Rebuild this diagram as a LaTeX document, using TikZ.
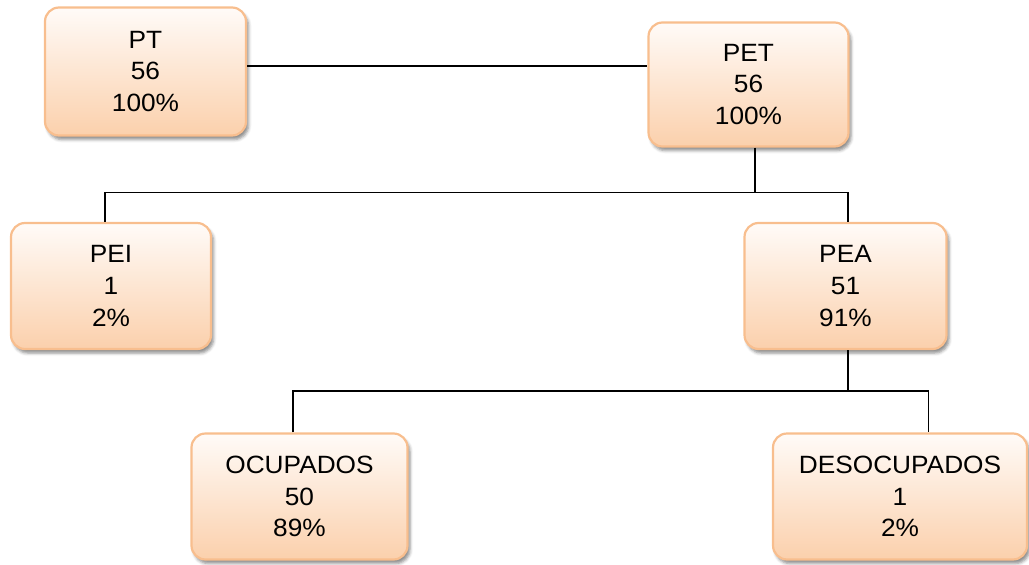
\documentclass[tikz,border=0pt]{standalone}
\usepackage{fontspec}
\setmainfont{Liberation Sans}[FakeStretch=1.05]
\usetikzlibrary{shadows.blur}
\definecolor{boxborder}{HTML}{F8BE8E}
\definecolor{boxtop}{HTML}{FFFBF8}
\definecolor{boxbottom}{HTML}{FBD0AC}
\tikzset{
  databox/.style={rectangle, rounded corners=14pt, draw=boxborder, line width=2.2pt,
    top color=boxtop, bottom color=boxbottom, align=center, inner sep=0pt,
    font=\fontsize{25}{31.7}\selectfont,
    blur shadow={shadow xshift=2.5pt, shadow yshift=-4pt, shadow blur radius=3pt, shadow opacity=45}},
  link/.style={line width=1.7pt, black}
}
\begin{document}
\begin{tikzpicture}[x=1pt,y=-1pt]
\useasboundingbox (0,0) rectangle (1029,565);
\node[databox, minimum width=201pt, minimum height=128pt] (PT) at (145.5,71.5) {PT\\56\\100\%};
\node[databox, minimum width=200pt, minimum height=124pt] (PET) at (748.5,84.5) {PET\\56\\100\%};
\node[databox, minimum width=200pt, minimum height=126pt] (PEI) at (111,286) {PEI\\1\\2\%};
\node[databox, minimum width=202pt, minimum height=126pt] (PEA) at (845.5,286) {PEA\\51\\91\%};
\node[databox, minimum width=216pt, minimum height=126pt] (OCU) at (299.5,496.5) {OCUPADOS\\50\\89\%};
\node[databox, minimum width=254pt, minimum height=126pt] (DES) at (900,496.5) {DESOCUPADOS\\1\\2\%};
% connectors
\draw[link] (PT.east |- 0,66) -- (PET.west |- 0,66);
\draw[link] ([xshift=6.5pt]PET.south) -- ++(0,45) coordinate (j1);
\draw[link] ([xshift=-6pt]PEI.north) |- (j1) -| ([xshift=2.5pt]PEA.north);
\draw[link] ([xshift=2.5pt]PEA.south) -- ++(0,41) coordinate (j2);
\draw[link] ([xshift=-6.5pt]OCU.north) |- (j2) -| ([xshift=28.5pt]DES.north);
\end{tikzpicture}
\end{document}
